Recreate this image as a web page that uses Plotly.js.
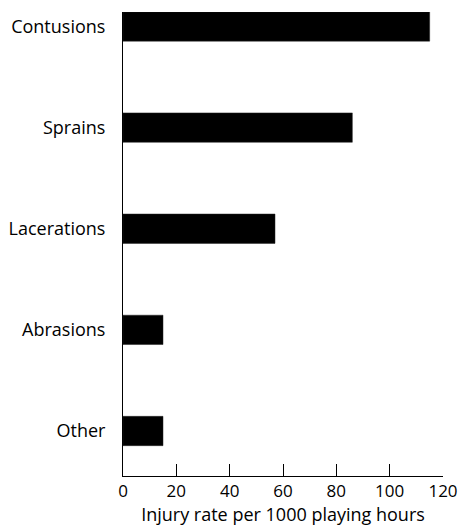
<!DOCTYPE html>
<html>
<head>
<meta charset="utf-8">
<script src="https://cdn.plot.ly/plotly-3.0.1.min.js"></script>
<style>html,body{margin:0;padding:0;background:#fff;}#chart{width:462px;height:531px;}</style>
</head>
<body>
<div id="chart"></div>
<script>
const categories = ["Contusions", "Sprains", "Lacerations", "Abrasions", "Other"];
const injuryRates = [115, 86, 57, 15, 15];
const xTickValues = [0, 20, 40, 60, 80, 100, 120];
const xAxisTitle = "Injury rate per 1000 playing hours";

const trace = {
  type: "bar",
  orientation: "h",
  y: categories,
  x: injuryRates,
  width: 0.29,
  marker: {color: "#000000", line: {color: "#222", width: 0.5}},
  hoverinfo: "x+y"
};

const layout = {
  width: 462,
  height: 531,
  margin: {l: 123, r: 19, t: 12, b: 55},
  paper_bgcolor: "#fff",
  plot_bgcolor: "#fff",
  font: {family: "Open Sans, sans-serif", size: 18, color: "#000"},
  showlegend: false,
  xaxis: {
    range: [0, 120],
    tickvals: xTickValues,
    ticktext: xTickValues.map(String),
    ticks: "inside",
    ticklen: 12,
    tickwidth: 1,
    tickcolor: "#000",
    showline: true,
    linecolor: "#000",
    linewidth: 1,
    showgrid: false,
    zeroline: false,
    ticklabelstandoff: 0,
    tickfont: {size: 17},
    title: {text: xAxisTitle, font: {size: 18}, standoff: 0}
  },
  yaxis: {
    type: "category",
    range: [4.445, -0.143],
    showline: true,
    linecolor: "#000",
    linewidth: 1,
    showgrid: false,
    zeroline: false,
    ticks: "",
    ticklabelstandoff: 13,
    tickfont: {size: 18}
  }
};

Plotly.newPlot("chart", [trace], layout, {displayModeBar: false, staticPlot: true});
</script>
</body>
</html>
